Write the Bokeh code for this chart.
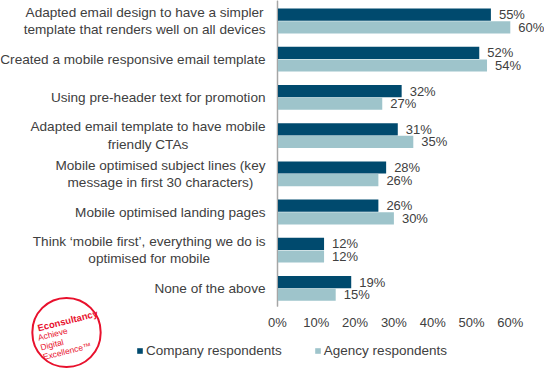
from bokeh.plotting import figure
from bokeh.models import (ColumnDataSource, Range1d, FixedTicker, NumeralTickFormatter,
                          Label, Legend, LegendItem, LinearAxis)
from bokeh.core.properties import value
from bokeh.embed import file_html
from bokeh.resources import INLINE

categories = [
    "Adapted email design to have a simpler\ntemplate that renders well on all devices",
    "Created a mobile responsive email template",
    "Using pre-header text for promotion",
    "Adapted email template to have mobile\nfriendly CTAs",
    "Mobile optimised subject lines (key\nmessage in first 30 characters)",
    "Mobile optimised landing pages",
    "Think \u2018mobile first\u2019, everything we do is\noptimised for mobile",
    "None of the above",
]
company = [0.55, 0.52, 0.32, 0.31, 0.28, 0.26, 0.12, 0.19]
agency = [0.60, 0.54, 0.27, 0.35, 0.26, 0.30, 0.12, 0.15]
x_ticks = [0, 0.1, 0.2, 0.3, 0.4, 0.5, 0.6]
series_names = ["Company respondents", "Agency respondents"]

DARK = "#004a6e"
LIGHT = "#9ec4cb"
TXT = "#404040"
FONT = "Liberation Sans"
RED = "#e8112d"

W, H = 544, 369
PX_X = 388.0     # pixels per unit of share
PX_Y = 38.2      # pixels per category row
X0 = 277         # pixel position of 0%
TOP = 20.5 / PX_Y  # rows above first category centre
AXIS_BOTTOM = -TOP + 306 / PX_Y

idx = list(range(len(categories)))
off = 0.165
src_c = ColumnDataSource(dict(y=[i - off for i in idx], v=company,
                              lab=[f"{round(v*100)}%" for v in company]))
src_a = ColumnDataSource(dict(y=[i + off for i in idx], v=agency,
                              lab=[f"{round(v*100)}%" for v in agency]))
src_cat = ColumnDataSource(dict(y=idx, x=[0] * len(idx), t=categories))

p = figure(width=W, height=H, output_backend="svg", toolbar_location=None,
           x_range=Range1d(-X0 / PX_X, (W - X0) / PX_X),
           y_range=Range1d(-TOP + H / PX_Y, -TOP),
           min_border=0, x_axis_location=None, y_axis_location=None)
p.outline_line_color = None
p.xgrid.visible = False
p.ygrid.visible = False
p.border_fill_color = "white"

# axis rule (drawn under the bars)
p.segment(x0=[0], y0=[-TOP], x1=[0], y1=[AXIS_BOTTOM], line_color="#a6a6a6", line_width=1.5)

rc = p.hbar(y="y", right="v", left=0, height=0.32, source=src_c, fill_color=DARK, line_color=None)
ra = p.hbar(y="y", right="v", left=0, height=0.32, source=src_a, fill_color=LIGHT, line_color=None)

for s in (src_c, src_a):
    p.text(x="v", y="y", text="lab", source=s, x_offset=8, text_baseline="middle",
           text_align="left", text_font=value(FONT), text_font_size="13px", text_color=TXT)

# category labels: block right-aligned next to the axis, lines centred
p.text(x="x", y="y", text="t", source=src_cat, x_offset=-12, anchor="center_right",
       text_align="center", text_baseline="middle", text_font=value(FONT),
       text_font_size="13.6px", text_color=TXT, text_line_height=1.15)

yax = LinearAxis(fixed_location=0, bounds=(-TOP, AXIS_BOTTOM), ticker=FixedTicker(ticks=idx),
                 axis_line_color="#a6a6a6", major_tick_line_color=None,
                 minor_tick_line_color=None, major_label_text_alpha=0)
p.add_layout(yax, "left")

xax = LinearAxis(fixed_location=AXIS_BOTTOM, ticker=FixedTicker(ticks=x_ticks),
                 formatter=NumeralTickFormatter(format="0%"), axis_line_color=None,
                 major_tick_line_color=None, minor_tick_line_color=None,
                 major_label_standoff=2, major_label_text_font=FONT,
                 major_label_text_font_size="13px", major_label_text_color=TXT)
p.add_layout(xax, "below")

# legend
legend = Legend(items=[LegendItem(label=series_names[0], renderers=[rc]),
                       LegendItem(label=series_names[1], renderers=[ra])],
                orientation="horizontal", location=(136, 11),
                glyph_width=7, glyph_height=7, label_standoff=3, spacing=32,
                padding=0, margin=0, border_line_color=None, background_fill_alpha=0,
                label_text_font=FONT, label_text_font_size="13.5px", label_text_color=TXT,
                label_height=16)
p.add_layout(legend, "center")

# logo
p.add_layout(Label(x=66, y=37, x_units="screen", y_units="screen", text=" ",
                   text_font_size="1px", text_align="center", text_baseline="middle",
                   padding=34, border_radius=34, border_line_color=RED, border_line_width=2,
                   background_fill_color=None))
p.add_layout(Label(x=67, y=49, x_units="screen", y_units="screen", text="Econsultancy",
                   angle=0.245, text_font=FONT, text_font_style="bold", text_font_size="9.5px",
                   text_color=RED, text_align="center", text_baseline="middle"))
p.add_layout(Label(x=40, y=22, x_units="screen", y_units="screen",
                   text="Achieve\nDigital\nExcellence\u2122",
                   angle=0.245, text_font=FONT, text_font_size="8.5px", text_line_height=1.0,
                   text_color=RED, text_align="left", text_baseline="middle"))

open("out.html", "w").write(file_html(p, INLINE))
